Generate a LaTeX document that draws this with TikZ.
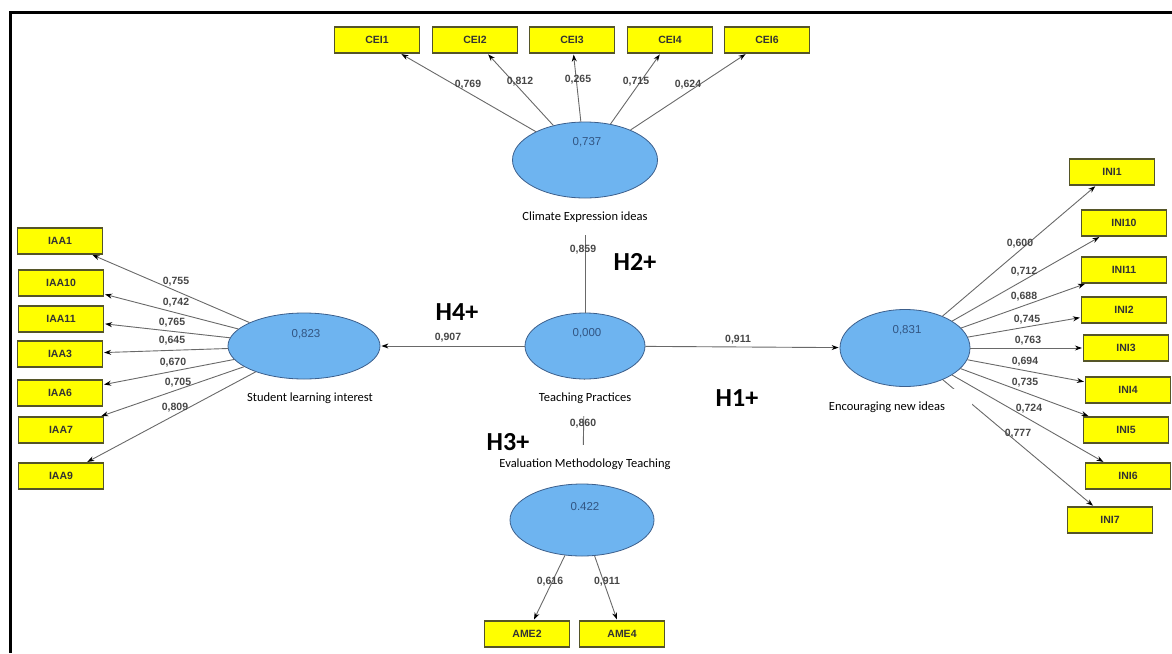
\documentclass[tikz,border=0pt]{standalone}
\usepackage{fontspec}
\setmainfont{Carlito}
\newfontfamily\arialf{Liberation Sans}
\usetikzlibrary{shapes.geometric,arrows.meta}
\definecolor{lvfill}{RGB}{110,180,240}
\definecolor{lvdraw}{RGB}{60,95,140}
\definecolor{indfill}{RGB}{255,255,0}
\definecolor{inddraw}{RGB}{85,85,40}
\definecolor{lncol}{RGB}{105,105,105}
\definecolor{numcol}{RGB}{70,70,70}
\definecolor{valcol}{RGB}{50,85,130}
\tikzset{
  lvar/.style={ellipse, draw=lvdraw, fill=lvfill, line width=0.8pt, inner sep=0pt},
  mvar/.style={rectangle, draw=inddraw, fill=indfill, line width=1.2pt, minimum width=85pt, minimum height=26pt, inner sep=0pt, font=\arialf\bfseries\fontsize{10.5}{12}\selectfont, text=black!80},
  rval/.style={font=\arialf\fontsize{11.5}{13}\selectfont, text=valcol, inner sep=0pt},
  load/.style={font=\arialf\bfseries\fontsize{10.5}{12}\selectfont, text=numcol, inner sep=0pt},
  lvlabel/.style={font=\fontsize{12.5}{14}\selectfont, fill=white, inner xsep=2pt, inner ysep=0pt, minimum height=36pt},
  hyp/.style={font=\bfseries\fontsize{26}{30}\selectfont, inner sep=0pt},
  conn/.style={draw=lncol, line width=0.9pt, -{Stealth[length=7pt,width=5pt,color=black]}, shorten >=1pt},
  frame/.style={line width=2.5pt, draw=black}
}
\begin{document}
\begin{tikzpicture}[x=1pt,y=-1pt]
\useasboundingbox (0,0) rectangle (1172,653);
\draw[frame] (1172,12.5) coordinate (fr1) -- (10.5,12.5) coordinate (fr2) -- (10.5,653) coordinate (fr3);

% latent variables
\node[lvar, minimum width=145pt, minimum height=76pt] (cei) at (585,160) {};
\node[lvar, minimum width=152pt, minimum height=66pt] (sli) at (304,346) {};
\node[lvar, minimum width=120pt, minimum height=66pt] (tp) at (585,346) {};
\node[lvar, minimum width=130pt, minimum height=77pt] (eni) at (905,348) {};
\node[lvar, minimum width=144pt, minimum height=72pt] (emt) at (582,520) {};

% indicators
\node[mvar] (c1) at (377,40) {CEI1};
\node[mvar] (c2) at (475,40) {CEI2};
\node[mvar] (c3) at (572,40) {CEI3};
\node[mvar] (c4) at (670,40) {CEI4};
\node[mvar] (c6) at (767,40) {CEI6};

\node[mvar] (a1) at (60,241) {IAA1};
\node[mvar] (a10) at (61,283) {IAA10};
\node[mvar] (a11) at (61,319) {IAA11};
\node[mvar] (a3) at (60,354) {IAA3};
\node[mvar] (a6) at (60,393) {IAA6};
\node[mvar] (a7) at (61,430) {IAA7};
\node[mvar] (a9) at (61,476) {IAA9};

\node[mvar] (n1) at (1112,172) {INI1};
\node[mvar] (n10) at (1124,223) {INI10};
\node[mvar] (n11) at (1124,270) {INI11};
\node[mvar] (n2) at (1124,310) {INI2};
\node[mvar] (n3) at (1126,348) {INI3};
\node[mvar] (n4) at (1128,390) {INI4};
\node[mvar] (n5) at (1126,430) {INI5};
\node[mvar] (n6) at (1128,476) {INI6};
\node[mvar] (n7) at (1110,520) {INI7};

\node[mvar] (m2) at (527,634) {AME2};
\node[mvar] (m4) at (622,634) {AME4};

% connectors
\foreach \b in {c1,c2,c3,c4,c6} \draw[conn] (cei) -- (\b);
\foreach \b in {a1,a10,a11,a3,a6,a7,a9} \draw[conn] (sli) -- (\b);
\foreach \b in {n1,n10,n11,n2,n3,n4,n5,n6,n7} \draw[conn] (eni) -- (\b);
\foreach \b in {m2,m4} \draw[conn] (emt) -- (\b);
\draw[conn] (tp) -- (sli);
\draw[conn] (tp) -- (eni);
\draw[conn] (tp) -- (cei);
\draw[conn] (tp) -- (emt);

% latent variable labels
\node[lvlabel] (lcei) at (585,217) {Climate Expression ideas};
\node[lvlabel] (lsli) at (310,398) {Student learning interest};
\node[lvlabel] (ltp) at (585,398) {Teaching Practices};
\node[lvlabel, minimum width=170pt] (leni) at (887,407) {Encouraging new ideas};
\node[lvlabel, minimum height=38pt] (lemt) at (585,464) {\raisebox{-3pt}{Evaluation Methodology Teaching}};

% R2 values
\node[rval] (vcei) at (587,142) {0,737};
\node[rval] (vsli) at (306,334) {0,823};
\node[rval] (vtp) at (587,333) {0,000};
\node[rval] (veni) at (907,330) {0,831};
\node[rval] (vemt) at (585,507) {0.422};

% loadings
\node[load] (l1) at (468,85) {0,769};
\node[load] (l2) at (520,82) {0,812};
\node[load] (l3) at (578,80) {0,265};
\node[load] (l4) at (636,82) {0,715};
\node[load] (l5) at (688,85) {0,624};

\node[load] (k1) at (176,282) {0,755};
\node[load] (k2) at (176,303) {0,742};
\node[load] (k3) at (172,323) {0,765};
\node[load] (k4) at (172,341) {0,645};
\node[load] (k5) at (173,363) {0,670};
\node[load] (k6) at (178,383) {0,705};
\node[load] (k7) at (175,408) {0,809};

\node[load] (j1) at (1020,244) {0,600};
\node[load] (j2) at (1024,272) {0,712};
\node[load] (j3) at (1024,297) {0,688};
\node[load] (j4) at (1027,320) {0,745};
\node[load] (j5) at (1028,341) {0,763};
\node[load] (j6) at (1025,362) {0,694};
\node[load] (j7) at (1025,383) {0,735};
\node[load] (j8) at (1029,409) {0,724};
\node[load] (j9) at (1018,434) {0,777};

\node[load] (p1) at (550,582) {0,616};
\node[load] (p2) at (607,582) {0,911};

\node[load] (s1) at (448,338) {0,907};
\node[load] (s2) at (738,340) {0,911};
\node[load] (s3) at (583,250) {0,859};
\node[load] (s4) at (583,424) {0,860};

% hypotheses
\node[hyp] (h4) at (457,312) {H4+};
\node[hyp] (h2) at (635,262) {H2+};
\node[hyp] (h1) at (737,398) {H1+};
\node[hyp] (h3) at (508,442) {H3+};
\end{tikzpicture}
\end{document}
